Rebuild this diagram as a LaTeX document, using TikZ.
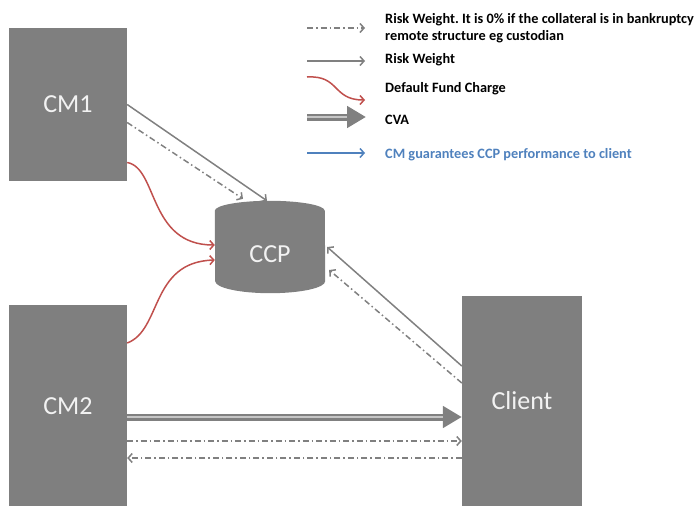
\documentclass[tikz,border=0pt]{standalone}
\usepackage{fontspec}
\setmainfont{Carlito}
\usetikzlibrary{arrows.meta,calc}
\definecolor{boxgray}{HTML}{7F7F7F}
\definecolor{linegray}{HTML}{808080}
\definecolor{dfred}{HTML}{C0504D}
\definecolor{cmblue}{HTML}{4F81BD}
\definecolor{boxtext}{HTML}{F2F2F2}
\frenchspacing
\begin{document}
\begin{tikzpicture}[x=1pt,y=-1pt,
 box/.style={fill=boxgray, draw=none, inner sep=0, text=boxtext, font=\fontsize{26}{30}\selectfont},
 rw/.style={draw=linegray, line width=1.5pt, -{Straight Barb[length=4pt,width=9pt]}},
 rwdd/.style={rw, dash pattern=on 6pt off 3pt on 1.5pt off 3pt},
 dfc/.style={draw=dfred, line width=1.5pt, -{Straight Barb[length=4pt,width=9pt]}},
 cmg/.style={draw=cmblue, line width=1.5pt, -{Straight Barb[length=4pt,width=9pt]}},
 cvashaft/.style={draw=linegray, line width=7pt, -{Triangle[length=19pt,width=21pt]}},
 cvastripe/.style={draw=white!55!linegray, line width=1.5pt, shorten >=19pt},
 legtext/.style={anchor=west, inner sep=0, font=\fontsize{14.3}{16.5}\selectfont\bfseries, align=left},
]
\useasboundingbox (0,0) rectangle (694,506);

% boxes
\node[box, minimum width=118pt, minimum height=153pt] (cm1) at (68,104.5) {CM1};
\node[box, minimum width=118pt, minimum height=202pt] (cm2) at (68,406) {CM2};
\node[box, minimum width=120pt, minimum height=210pt] (client) at (522,401) {Client};

% CCP cylinder
\node[inner sep=0, minimum width=110pt, minimum height=92pt] (ccp) at (270,247) {};
\fill[boxgray] ($(ccp.north west)+(0,10)$) arc[start angle=180, end angle=0, x radius=55pt, y radius=10pt]
  -- ($(ccp.south east)+(0,-12)$) arc[start angle=0, end angle=-180, x radius=55pt, y radius=12pt] -- cycle;
\node[text=boxtext, font=\fontsize{26}{30}\selectfont, inner sep=0] (ccplabel) at (270,254) {CCP};

% CM1 -> CCP
\draw[rw] (cm1.east) -- ([xshift=-3pt]ccp.north);
\draw[rwdd] ([yshift=-18pt]cm1.east) -- ([xshift=-27pt,yshift=2pt]ccp.north);
\draw[dfc] ([yshift=-58pt]cm1.east) .. controls (158,168) and (148,245) .. ([yshift=2pt]ccp.west);
% CM2 -> CCP
\draw[dfc] ([yshift=63pt]cm2.east) .. controls (162,330) and (150,262) .. ([yshift=-13pt]ccp.west);
% Client -> CCP
\draw[rw] ([yshift=35pt]client.west) -- ([xshift=2pt]ccp.east);
\draw[rwdd] ([yshift=18pt]client.west) -- ([xshift=4pt,yshift=-23pt]ccp.east);
% CM2 <-> Client
\draw[cvashaft] (cm2.east |- 0,417) -- (client.west |- 0,417);
\draw[cvastripe] (cm2.east |- 0,417) -- (client.west |- 0,417);
\draw[rwdd] (cm2.east |- 0,441) -- (client.west |- 0,441);
\draw[rwdd] (client.west |- 0,458) -- (cm2.east |- 0,458);

% legend
\coordinate (l1a) at (307,28);  \coordinate (l1b) at (365,28);
\coordinate (l2a) at (307,61);  \coordinate (l2b) at (365,61);
\coordinate (l3a) at (307,77);  \coordinate (l3b) at (365,100);
\coordinate (l4a) at (307,117); \coordinate (l4b) at (366,117);
\coordinate (l5a) at (307,153); \coordinate (l5b) at (365,153);
\draw[rwdd] (l1a) -- (l1b);
\draw[rw] (l2a) -- (l2b);
\draw[dfc] (l3a) .. controls (340,75) and (332,100) .. (l3b);
\draw[cvashaft] (l4a) -- (l4b);
\draw[cvastripe] (l4a) -- (l4b);
\draw[cmg] (l5a) -- (l5b);
\node[legtext] (t1) at (385,28) {Risk Weight. It is 0\% if the collateral is in bankruptcy\\remote structure eg custodian};
\node[legtext] (t2) at (385,60) {Risk Weight};
\node[legtext] (t3) at (385,89) {Default Fund Charge};
\node[legtext] (t4) at (385,120) {CVA};
\node[legtext, text=cmblue] (t5) at (385,155) {CM guarantees CCP performance to client};
\end{tikzpicture}
\end{document}
